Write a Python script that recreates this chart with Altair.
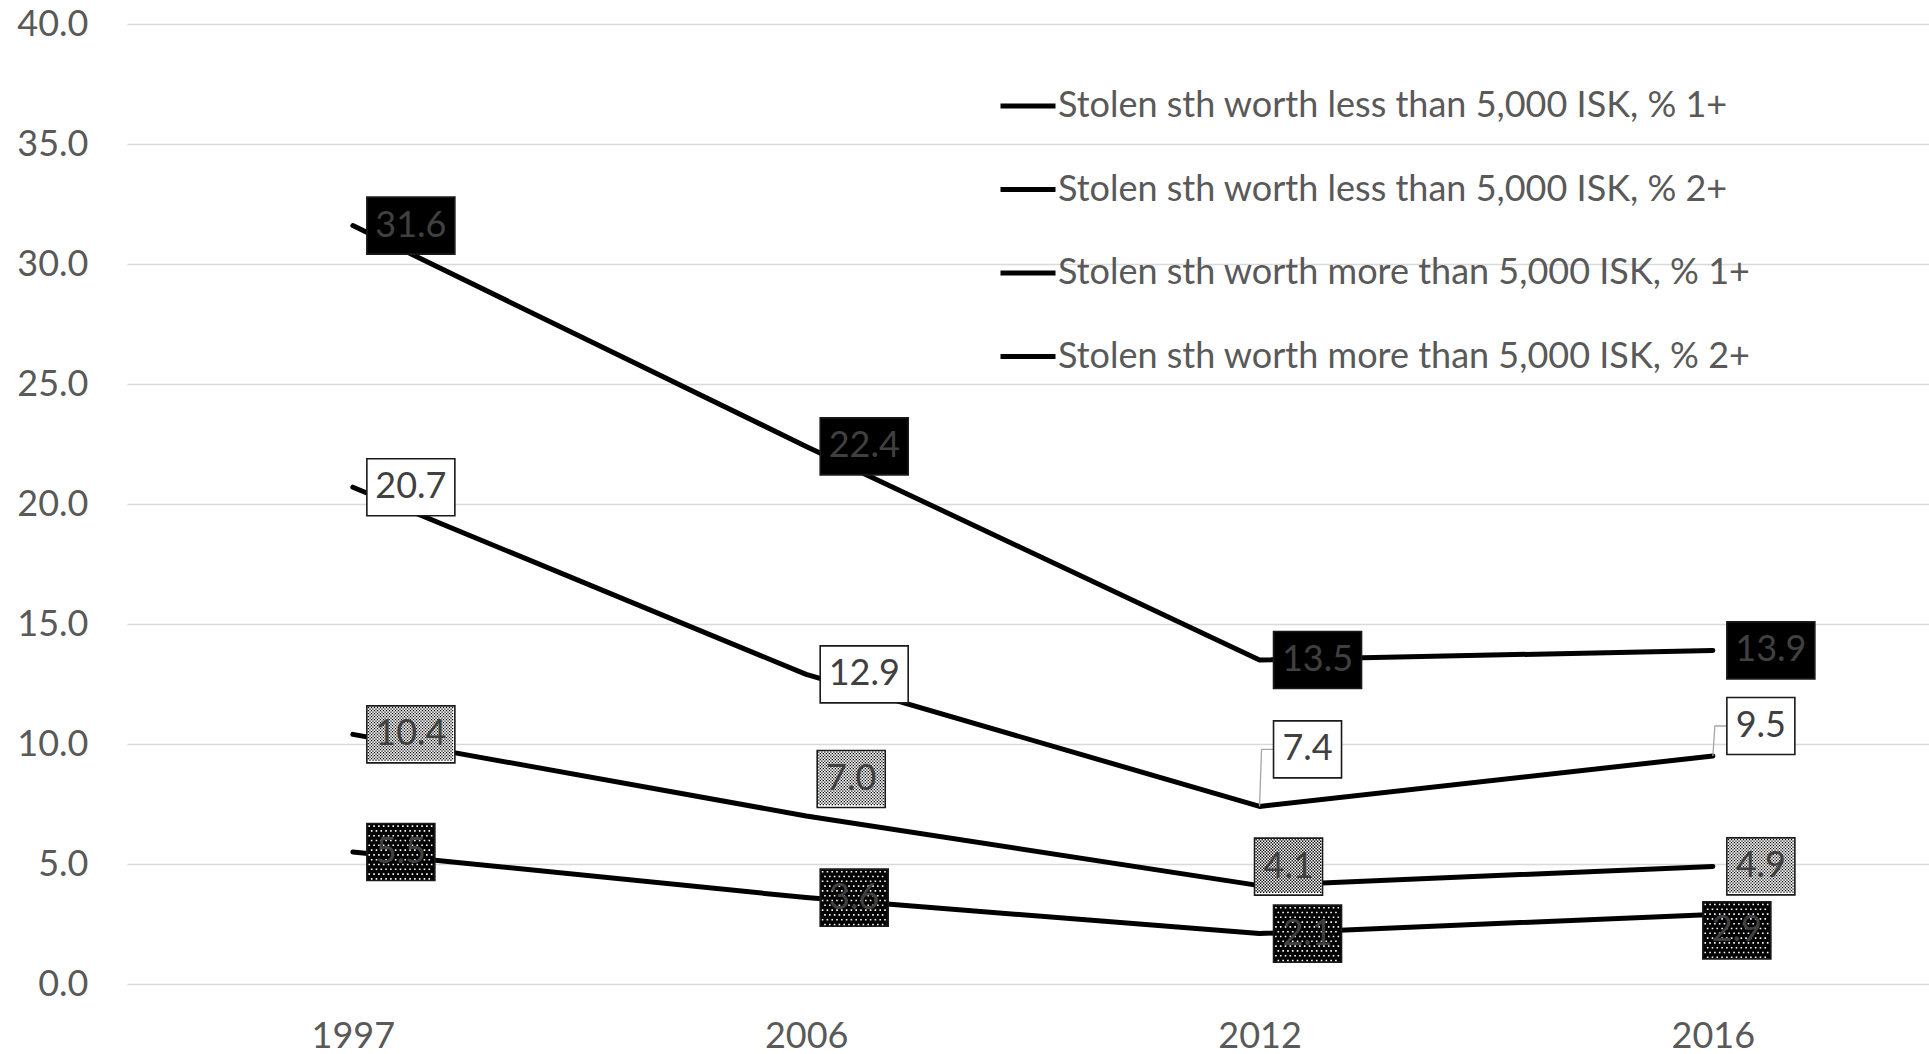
import altair as alt
import pandas as pd

# ---- data -------------------------------------------------------------
years = ["1997", "2006", "2012", "2016"]
series = [
    "Stolen sth worth less than 5,000 ISK, % 1+",
    "Stolen sth worth less than 5,000 ISK, % 2+",
    "Stolen sth worth more than 5,000 ISK, % 1+",
    "Stolen sth worth more than 5,000 ISK, % 2+",
]
less_1plus = [31.6, 22.4, 13.5, 13.9]
less_2plus = [20.7, 12.9, 7.4, 9.5]
more_1plus = [10.4, 7.0, 4.1, 4.9]
more_2plus = [5.5, 3.6, 2.1, 2.9]
values = [less_1plus, less_2plus, more_1plus, more_2plus]

# ---- label styling ----------------------------------------------------
box_fill = ["#000000", "#ffffff", "#ffffff", "#000000"]
# texture drawn over the box: (kind, colour)
box_texture = [None, None, ("checker", "#000000"), ("dots", "#ffffff")]
BOX_H = 57
GAP = 14                       # distance from point to the left edge of a label box
# extra pixel nudges for labels that would collide with lines
nudge = {
    (1, "2012"): (0, -57),
    (1, "2016"): (0, -30),
    (2, "2006"): (-3, -37),
    (2, "2012"): (-19, -19),
    (3, "2016"): (-24, 16),
}
leader = {(1, "2012"), (1, "2016")}

FONT = "Lato"
FS = 36


def rect_path(l, t, w, h):
    return f"M{l:.1f},{t:.1f}h{w:.1f}v{h:.1f}h{-w:.1f}Z"


def dots_path(l, t, w, h, pitch=4.8, d=1.6):
    parts = []
    r = 0
    y = t + 1.8
    while y + d < t + h - 0.5:
        x = l + 1.6 + (r % 2) * pitch / 2
        while x + d < l + w - 0.5:
            parts.append(f"M{x:.1f},{y:.1f}h{d}v{d}h{-d}Z")
            x += pitch
        y += pitch
        r += 1
    return "".join(parts)


def checker_path(l, t, w, h, c=1.5, d=1.3):
    parts = []
    nr = int(h // c)
    nc = int(w // c)
    for r in range(nr):
        for k in range(nc):
            if (r + k) % 2 == 0:
                parts.append(f"M{l + k * c:.1f},{t + r * c:.1f}h{d}v{d}h-{d}Z")
    return "".join(parts)


rows = []
for si, name in enumerate(series):
    for yi, yr in enumerate(years):
        v = values[si][yi]
        txt = f"{v:.1f}"
        ndig = sum(ch.isdigit() for ch in txt)
        w = 20 * ndig + 28
        ndx, ndy = nudge.get((si, yr), (0, 0))
        cx = GAP + w / 2 + ndx
        cy = ndy
        l, t = cx - w / 2, cy - BOX_H / 2
        tex = box_texture[si]
        if tex is None:
            tex_path, tex_col = "", "#000000"
        elif tex[0] == "dots":
            tex_path, tex_col = dots_path(l, t, w, BOX_H), tex[1]
        else:
            tex_path, tex_col = checker_path(l + 1, t + 1, w - 2, BOX_H - 2), tex[1]
        rows.append(
            dict(
                id=len(rows),
                year=yr,
                series=name,
                value=v,
                label=txt,
                fill=box_fill[si],
                box=rect_path(l, t, w, BOX_H),
                tex=tex_path,
                tex_col=tex_col,
                lead=(f"M0,0L2,{cy:.1f}L{l:.1f},{cy:.1f}" if (si, yr) in leader else ""),
                cx=cx,
                cy=cy,
            )
        )
df = pd.DataFrame(rows)

# ---- encodings --------------------------------------------------------
x_enc = alt.X(
    "year:O",
    sort=years,
    scale=alt.Scale(type="point", domain=years, padding=0.4875, align=0.511),
    axis=alt.Axis(
        title=None, labelAngle=0, labelFont=FONT, labelFontSize=FS,
        labelColor="#595959", labelPadding=35, ticks=False, domain=False, grid=False,
    ),
)
y_enc = alt.Y(
    "value:Q",
    scale=alt.Scale(domain=[0, 40], nice=False),
    axis=alt.Axis(
        title=None, values=[0, 5, 10, 15, 20, 25, 30, 35, 40], format=".1f",
        labelFont=FONT, labelFontSize=FS, labelColor="#595959", labelPadding=39,
        ticks=False, domain=False, grid=True, gridColor="#d9d9d9", gridWidth=1.5,
    ),
)

base = alt.Chart(df).encode(x=x_enc, y=y_enc)

lines = base.mark_line(strokeWidth=5, strokeCap="round", strokeJoin="round").encode(
    color=alt.Color(
        "series:N",
        scale=alt.Scale(domain=series, range=["#000000"] * 4),
        legend=alt.Legend(
            orient="none", legendX=871, legendY=52, title=None,
            symbolType="stroke", symbolSize=3025, symbolStrokeWidth=5,
            symbolStrokeColor="#000000", labelFont=FONT, labelFontSize=FS,
            labelColor="#595959", rowPadding=35.5, labelOffset=0, labelLimit=0,
            padding=0, offset=0,
        ),
    ),
    detail="series:N",
)

leaders = base.transform_filter(alt.datum.lead != "").mark_point(
    filled=False, color="#a6a6a6", strokeWidth=1.3, opacity=1, size=4
).encode(shape=alt.Shape("lead:N", scale=None, legend=None))

boxes = base.mark_point(
    filled=True, opacity=1, size=4, stroke="#1a1a1a", strokeWidth=1.6
).encode(
    shape=alt.Shape("box:N", scale=None, legend=None),
    fill=alt.Fill("fill:N", scale=None, legend=None),
)

textures = base.transform_filter(alt.datum.tex != "").mark_point(
    filled=True, opacity=1, size=4, strokeOpacity=0
).encode(
    shape=alt.Shape("tex:N", scale=None, legend=None),
    fill=alt.Fill("tex_col:N", scale=None, legend=None),
)

texts = []
for r in rows:
    texts.append(
        base.transform_filter(alt.datum.id == r["id"]).mark_text(
            dx=r["cx"], dy=r["cy"], font=FONT, fontSize=FS, color="#404040",
            align="center", baseline="middle",
        ).encode(text="label:N")
    )

chart = (
    alt.layer(lines, leaders, boxes, textures, *texts)
    .properties(
        width=1802,
        height=960,
        autosize=alt.AutoSizeParams(type="none"),
        padding={"left": 127, "top": 24, "right": 0, "bottom": 70},
        background="#ffffff",
    )
    .configure_view(stroke=None)
)

chart.save("out.html", embed_options={"renderer": "svg", "actions": False})
